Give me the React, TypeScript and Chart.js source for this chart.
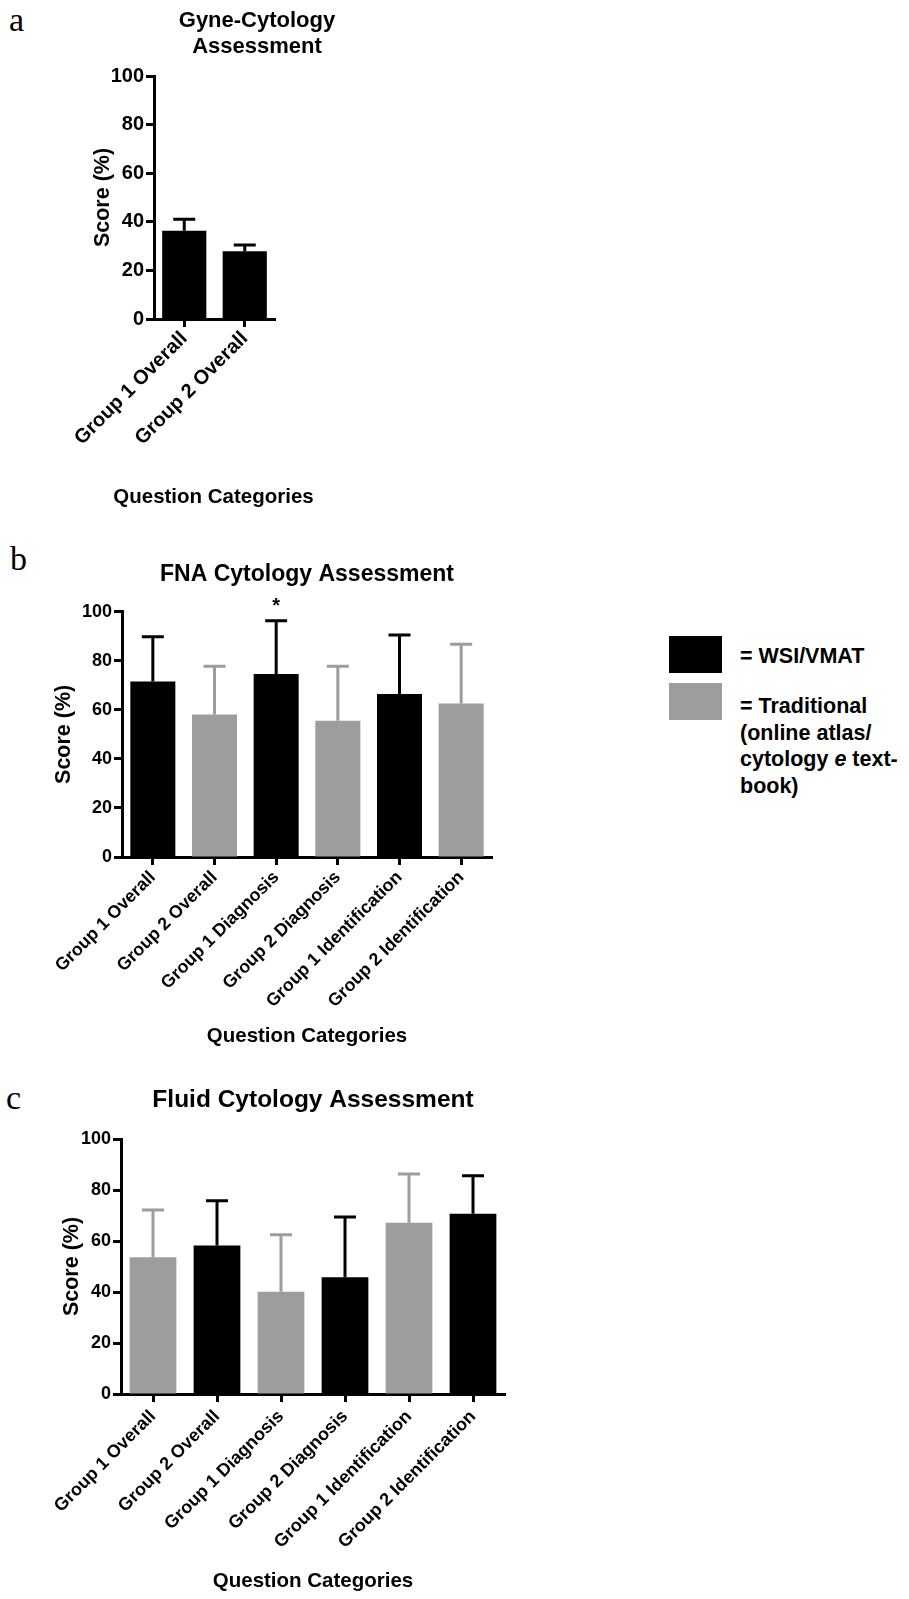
import React, { useEffect, useRef } from 'react';
import { Chart, registerables } from 'chart.js';

Chart.register(...registerables);

const FONT = '"Liberation Sans", Arial, Helvetica, sans-serif';
const SERIF = '"Liberation Serif", "Times New Roman", serif';
const BLACK = '#000000';
const GREY = '#9d9d9d';

// ---------- data ----------
const yAxisTitle = 'Score (%)';
const xAxisTitle = 'Question Categories';

const titleA = ['Gyne-Cytology', 'Assessment'];
const catsA = ['Group 1 Overall', 'Group 2 Overall'];
const meanA = [36.3, 27.9];
const sdA = [4.8, 2.6];
const methodA = ['WSI', 'WSI'];
const sigA = ['', ''];

const titleB = 'FNA Cytology Assessment';
const catsB = [
  'Group 1 Overall',
  'Group 2 Overall',
  'Group 1 Diagnosis',
  'Group 2 Diagnosis',
  'Group 1 Identification',
  'Group 2 Identification',
];
const meanB = [71.5, 58.1, 74.6, 55.5, 66.5, 62.6];
const sdB = [18.3, 19.7, 21.7, 22.3, 24.0, 24.1];
const methodB = ['WSI', 'Trad', 'WSI', 'Trad', 'WSI', 'Trad'];
const sigB = ['', '', '*', '', '', ''];

const titleC = 'Fluid Cytology Assessment';
const catsC = [
  'Group 1 Overall',
  'Group 2 Overall',
  'Group 1 Diagnosis',
  'Group 2 Diagnosis',
  'Group 1 Identification',
  'Group 2 Identification',
];
const meanC = [53.6, 58.2, 40.1, 45.8, 67.2, 70.7];
const sdC = [18.6, 17.6, 22.4, 23.6, 19.1, 14.9];
const methodC = ['Trad', 'WSI', 'Trad', 'WSI', 'Trad', 'WSI'];
const sigC = ['', '', '', '', '', ''];

const legendWSI = '= WSI/VMAT';

const colorOf = (m: string) => (m === 'WSI' ? BLACK : GREY);

type PanelCfg = {
  left: number;
  top: number;
  width: number;
  height: number;
  cats: string[];
  mean: number[];
  sd: number[];
  method: string[];
  sig: string[];
  title: string | string[];
  titleSize: number;
  titlePadTop: number;
  titlePadBottom: number;
  titleFull: boolean;
  yWidth: number;
  yTitlePad: number;
  xHeight: number;
  xTitlePad: number;
  xTitleManualY: number | null;
  rightWidth: number;
  tickSize: number;
  xTickSize: number;
  tickPad: number;
};

function makeErrorPlugin(cfg: PanelCfg) {
  return {
    id: 'errorBars',
    afterDatasetsDraw(chart: any) {
      const meta = chart.getDatasetMeta(0);
      const yScale = chart.scales.y;
      const ctx = chart.ctx;
      ctx.save();
      meta.data.forEach((bar: any, i: number) => {
        const topPx = yScale.getPixelForValue(cfg.mean[i] + cfg.sd[i]);
        ctx.strokeStyle = colorOf(cfg.method[i]);
        ctx.lineWidth = 3;
        ctx.lineCap = 'butt';
        ctx.beginPath();
        ctx.moveTo(bar.x, bar.y);
        ctx.lineTo(bar.x, topPx);
        ctx.moveTo(bar.x - 11, topPx);
        ctx.lineTo(bar.x + 11, topPx);
        ctx.stroke();
        if (cfg.sig[i]) {
          ctx.fillStyle = BLACK;
          ctx.font = `bold 20px ${FONT}`;
          ctx.textAlign = 'center';
          ctx.textBaseline = 'alphabetic';
          ctx.fillText(cfg.sig[i], bar.x, topPx - 9);
        }
      });
      if (cfg.xTitleManualY !== null) {
        const ca = chart.chartArea;
        ctx.fillStyle = BLACK;
        ctx.font = `bold 20.5px ${FONT}`;
        ctx.textAlign = 'center';
        ctx.textBaseline = 'middle';
        ctx.fillText(xAxisTitle, (ca.left + ca.right) / 2 - 1, cfg.xTitleManualY);
      }
      ctx.restore();
    },
  };
}

function Panel({ cfg }: { cfg: PanelCfg }) {
  const ref = useRef<HTMLCanvasElement | null>(null);
  useEffect(() => {
    if (!ref.current) return;
    const scales: any = {
      x: {
        grid: {
          display: true,
          drawOnChartArea: false,
          drawTicks: true,
          tickLength: 8,
          tickWidth: 3,
          tickColor: BLACK,
          offset: false,
          color: BLACK,
        },
        border: { display: true, color: BLACK, width: 3 },
        ticks: {
          autoSkip: false,
          maxRotation: 45,
          minRotation: 45,
          color: BLACK,
          padding: cfg.tickPad,
          font: { family: FONT, size: cfg.xTickSize, weight: 'bold' },
        },
        title: {
          display: cfg.xTitleManualY === null,
          text: xAxisTitle,
          color: BLACK,
          font: { family: FONT, size: 20.5, weight: 'bold', lineHeight: 1.2 },
          padding: { top: 0, bottom: cfg.xTitlePad },
        },
        afterFit: (s: any) => {
          s.height = cfg.xHeight;
        },
      },
      y: {
        min: 0,
        max: 100,
        grid: {
          display: true,
          drawOnChartArea: false,
          drawTicks: true,
          tickLength: 8,
          tickWidth: 3,
          tickColor: BLACK,
          color: BLACK,
        },
        border: { display: true, color: BLACK, width: 3 },
        ticks: {
          stepSize: 20,
          color: BLACK,
          padding: 2,
          font: { family: FONT, size: cfg.tickSize, weight: 'bold' },
        },
        title: {
          display: true,
          text: yAxisTitle,
          color: BLACK,
          font: { family: FONT, size: 21.5, weight: 'bold', lineHeight: 1.2 },
          padding: { top: cfg.yTitlePad, bottom: 0 },
        },
        afterFit: (s: any) => {
          s.width = cfg.yWidth;
        },
      },
      spacer: {
        type: 'linear',
        position: 'right',
        display: true,
        grid: { display: false, drawTicks: false },
        border: { display: false },
        ticks: { display: false },
        title: { display: false },
        afterFit: (s: any) => {
          s.width = cfg.rightWidth;
        },
      },
    };
    const chart = new Chart(ref.current, {
      type: 'bar',
      data: {
        labels: cfg.cats,
        datasets: [
          {
            data: cfg.mean,
            backgroundColor: cfg.method.map(colorOf),
            borderWidth: 0,
            barPercentage: 0.73,
            categoryPercentage: 1,
          },
        ],
      },
      options: {
        responsive: false,
        animation: false,
        devicePixelRatio: 1,
        layout: { padding: 0 },
        plugins: {
          legend: { display: false },
          tooltip: { enabled: false },
          title: {
            display: true,
            text: cfg.title,
            fullSize: cfg.titleFull,
            color: BLACK,
            font: { family: FONT, size: cfg.titleSize, weight: 'bold', lineHeight: 1.2 },
            padding: { top: cfg.titlePadTop, bottom: cfg.titlePadBottom },
          },
        },
        scales,
      } as any,
      plugins: [makeErrorPlugin(cfg)],
    });
    return () => chart.destroy();
  }, [cfg]);
  return (
    <canvas
      ref={ref}
      width={cfg.width}
      height={cfg.height}
      style={{ position: 'absolute', left: cfg.left, top: cfg.top, width: cfg.width, height: cfg.height }}
    />
  );
}

const cfgA: PanelCfg = {
  left: 40,
  top: 0,
  width: 434,
  height: 519,
  cats: catsA,
  mean: meanA,
  sd: sdA,
  method: methodA,
  sig: sigA,
  title: titleA,
  titleSize: 22,
  titlePadTop: 7.8,
  titlePadBottom: 15.4,
  titleFull: true,
  yWidth: 114,
  yTitlePad: 50,
  xHeight: 200,
  xTitlePad: 10,
  xTitleManualY: 497,
  rightWidth: 199,
  tickSize: 20,
  xTickSize: 20,
  tickPad: 0,
};

const cfgB: PanelCfg = {
  left: 0,
  top: 540,
  width: 560,
  height: 517,
  cats: catsB,
  mean: meanB,
  sd: sdB,
  method: methodB,
  sig: sigB,
  title: titleB,
  titleSize: 23,
  titlePadTop: 21.2,
  titlePadBottom: 22.9,
  titleFull: false,
  yWidth: 122,
  yTitlePad: 51,
  xHeight: 200,
  xTitlePad: 8,
  xTitleManualY: null,
  rightWidth: 68,
  tickSize: 18,
  xTickSize: 17.8,
  tickPad: 2,
};

const cfgC: PanelCfg = {
  left: 0,
  top: 1060,
  width: 560,
  height: 539,
  cats: catsC,
  mean: meanC,
  sd: sdC,
  method: methodC,
  sig: sigC,
  title: titleC,
  titleSize: 24.5,
  titlePadTop: 25.3,
  titlePadBottom: 24.3,
  titleFull: false,
  yWidth: 121,
  yTitlePad: 59,
  xHeight: 205,
  xTitlePad: 5,
  xTitleManualY: null,
  rightWidth: 55,
  tickSize: 18,
  xTickSize: 18,
  tickPad: 4,
};

const letterStyle = (left: number, top: number): React.CSSProperties => ({
  position: 'absolute',
  left,
  top,
  fontFamily: SERIF,
  fontSize: 34,
  lineHeight: '34px',
  color: BLACK,
});

export default function App() {
  useEffect(() => {
    document.body.style.margin = '0';
  }, []);
  const legendText: React.CSSProperties = {
    position: 'absolute',
    left: 740,
    fontFamily: FONT,
    fontWeight: 'bold',
    fontSize: 21.5,
    lineHeight: '26.5px',
    color: BLACK,
    whiteSpace: 'nowrap',
  };
  return (
    <div style={{ position: 'absolute', left: 0, top: 0, width: 909, height: 1599, background: '#fff', overflow: 'hidden' }}>
      <div style={letterStyle(9, 3)}>a</div>
      <div style={letterStyle(10, 542)}>b</div>
      <div style={letterStyle(6, 1081)}>c</div>
      <Panel cfg={cfgA} />
      <Panel cfg={cfgB} />
      <Panel cfg={cfgC} />
      <div style={{ position: 'absolute', left: 669, top: 636, width: 53, height: 37, background: BLACK }} />
      <div style={{ position: 'absolute', left: 669, top: 683, width: 53, height: 37, background: GREY }} />
      <div style={{ ...legendText, top: 643 }}>{legendWSI}</div>
      <div style={{ ...legendText, top: 693 }}>
        = Traditional
        <br />
        (online atlas/
        <br />
        cytology <i>e</i> text-
        <br />
        book)
      </div>
    </div>
  );
}
